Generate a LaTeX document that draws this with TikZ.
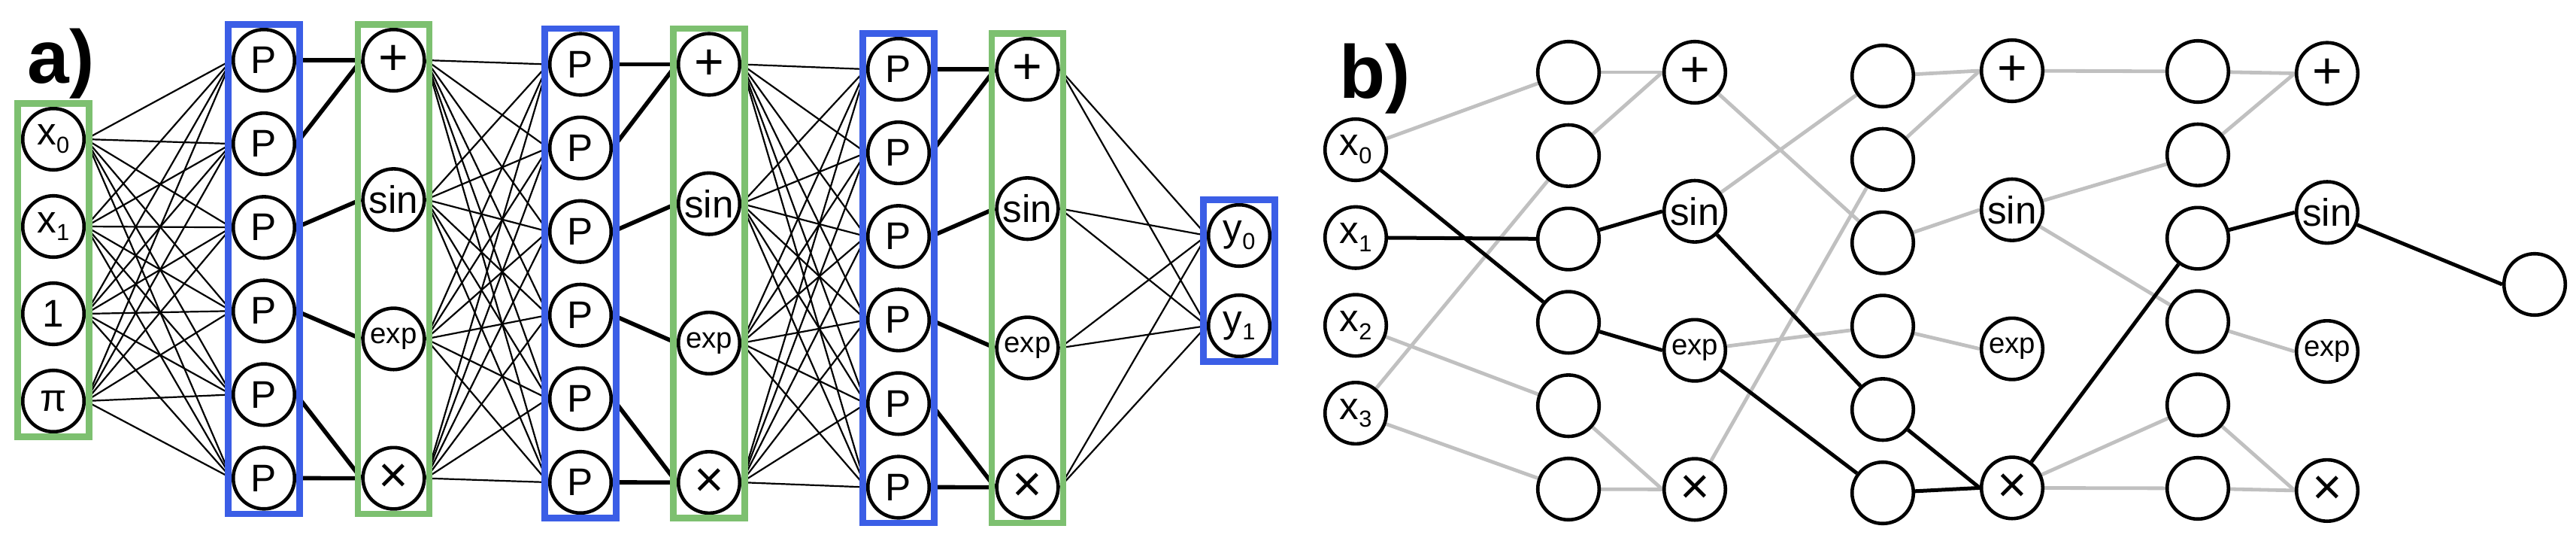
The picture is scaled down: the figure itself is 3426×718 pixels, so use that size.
\documentclass[tikz,border=0pt]{standalone}
\usepackage{fontspec}
\setmainfont{Liberation Sans}
\usetikzlibrary{positioning,fit,backgrounds}
\definecolor{pblue}{RGB}{59,94,230}
\definecolor{ogreen}{RGB}{125,192,112}
\definecolor{lgray}{RGB}{192,192,192}
\newcommand{\idx}[1]{\raisebox{-2.7pt}{\fontsize{7.7}{8}\selectfont #1}}
\tikzset{
  unit/.style={circle,draw,line width=1.15pt,minimum size=20.4pt,inner sep=0pt,font=\fontsize{12.8}{14}\selectfont},
  pblk/.style={draw=pblue,line width=2.15pt,inner sep=1.1pt},
  oblk/.style={draw=ogreen,line width=2.15pt,inner sep=1.1pt},
  wire/.style={line width=0.55pt},
  bwire/.style={line width=1.4pt},
  gwire/.style={line width=1.2pt,lgray},
  kwire/.style={line width=1.25pt},
  lbl/.style={font=\fontsize{25}{28}\selectfont\bfseries,anchor=base west,inner sep=0pt}
}
\begin{document}
\begin{tikzpicture}[x=0.25pt,y=-0.25pt]
  \useasboundingbox (0,0) rectangle (3426,718);

  % a) dense network
  \node[lbl] (lbla) at (36,110) {a)};
  \foreach \lab [count=\i] in {x\idx{0},x\idx{1},1,π}
    \node[unit] (ain\i) at (71,{185+116*(\i-1)}) {\lab};
  \foreach \c/\px/\ox/\yy in {1/351/523.5/80,2/772/943/85.5,3/1195/1366.5/92}{
    \foreach \k in {1,...,6}
      \node[unit] (ap\c-\k) at (\px,{\yy+111.1*(\k-1)}) {P};
    \foreach \lab/\fs [count=\k] in {+/17,sin/12.8,exp/9.6,×/17}
      \node[unit,font=\fontsize{\fs}{11}\selectfont] (ao\c-\k) at (\ox,{\yy+185.2*(\k-1)}) {\lab};
  }
  \node[unit] (aout1) at (1648,313) {y\idx{0}};
  \node[unit] (aout2) at (1648,433) {y\idx{1}};

  \node[oblk,fit=(ain1)(ain4)] (ainbox) {};
  \foreach \c in {1,2,3}{
    \node[pblk,fit=(ap\c-1)(ap\c-6)] (apbox\c) {};
    \node[oblk,fit=(ao\c-1)(ao\c-4)] (aobox\c) {};
  }
  \node[pblk,fit=(aout1)(aout2)] (aoutbox) {};

  \begin{scope}[on background layer]
    \foreach \i in {1,...,4} \foreach \k in {1,...,6}
      \draw[wire] (ain\i.east) -- (ap1-\k.west);
    \foreach \c/\n in {1/2,2/3} \foreach \m in {1,...,4} \foreach \k in {1,...,6}
      \draw[wire] (ao\c-\m.east) -- (ap\n-\k.west);
    \foreach \m in {1,...,4} \foreach \j in {1,2}
      \draw[wire] (ao3-\m.east) -- (aout\j.west);
    \foreach \c in {1,2,3} \foreach \k/\m in {1/1,2/1,3/2,4/3,5/4,6/4}
      \draw[bwire] (ap\c-\k.east) -- (ao\c-\m.west);
  \end{scope}

  % b) pruned network
  \node[lbl] (lblb) at (1781,130) {b)};
  \foreach \i in {1,...,4}
    \node[unit] (bin\i) at (1803,{199+116.7*(\i-1)}) {x\idx{\the\numexpr\i-1\relax}};
  \foreach \c/\px/\yy in {1/2086/96,2/2504/101,3/2923/95}
    \foreach \k in {1,...,6}
      \node[unit] (bh\c-\k) at (\px,{\yy+110.8*(\k-1)}) {};
  \foreach \c/\px/\yy in {1/2254/96,2/2676/94,3/3095/97.5}
    \foreach \lab/\fs [count=\k] in {+/17,sin/12.8,exp/9.6,×/17}
      \node[unit,font=\fontsize{\fs}{11}\selectfont] (bo\c-\k) at (\px,{\yy+184.8*(\k-1)}) {\lab};
  \node[unit] (bout) at (3371,378) {};

  \begin{scope}[on background layer]
    \foreach \u/\v in {bin1/bh1-1,bin4/bh1-2,bin3/bh1-5,bin4/bh1-6,
        bh1-1/bo1-1.west,bh1-2/bo1-1.west,bh1-5/bo1-4.west,bh1-6/bo1-4.west,
        bo1-1/bh2-3,bo1-2/bh2-1,bo1-4/bh2-2,bo1-3/bh2-4,
        bh2-1/bo2-1.west,bh2-2/bo2-1.west,bh2-3/bo2-2.west,bh2-4/bo2-3.west,
        bo2-1/bh3-1,bo2-2/bh3-2,bo2-2/bh3-4,bo2-4/bh3-5,bo2-4/bh3-6,
        bh3-1/bo3-1.west,bh3-2/bo3-1.west,bh3-4/bo3-3.west,bh3-5/bo3-4.west,bh3-6/bo3-4.west}
      \draw[gwire] (\u) -- (\v);
    \foreach \u/\v in {bin1/bh1-4,bin2/bh1-3,bh1-3/bo1-2.west,bh1-4/bo1-3.west,
        bo1-2/bh2-5,bo1-3/bh2-6,bh2-5/bo2-4.west,bh2-6/bo2-4.west,
        bo2-4/bh3-3,bh3-3/bo3-2.west,bo3-2/bout.west}
      \draw[kwire] (\u) -- (\v);
  \end{scope}
\end{tikzpicture}
\end{document}
